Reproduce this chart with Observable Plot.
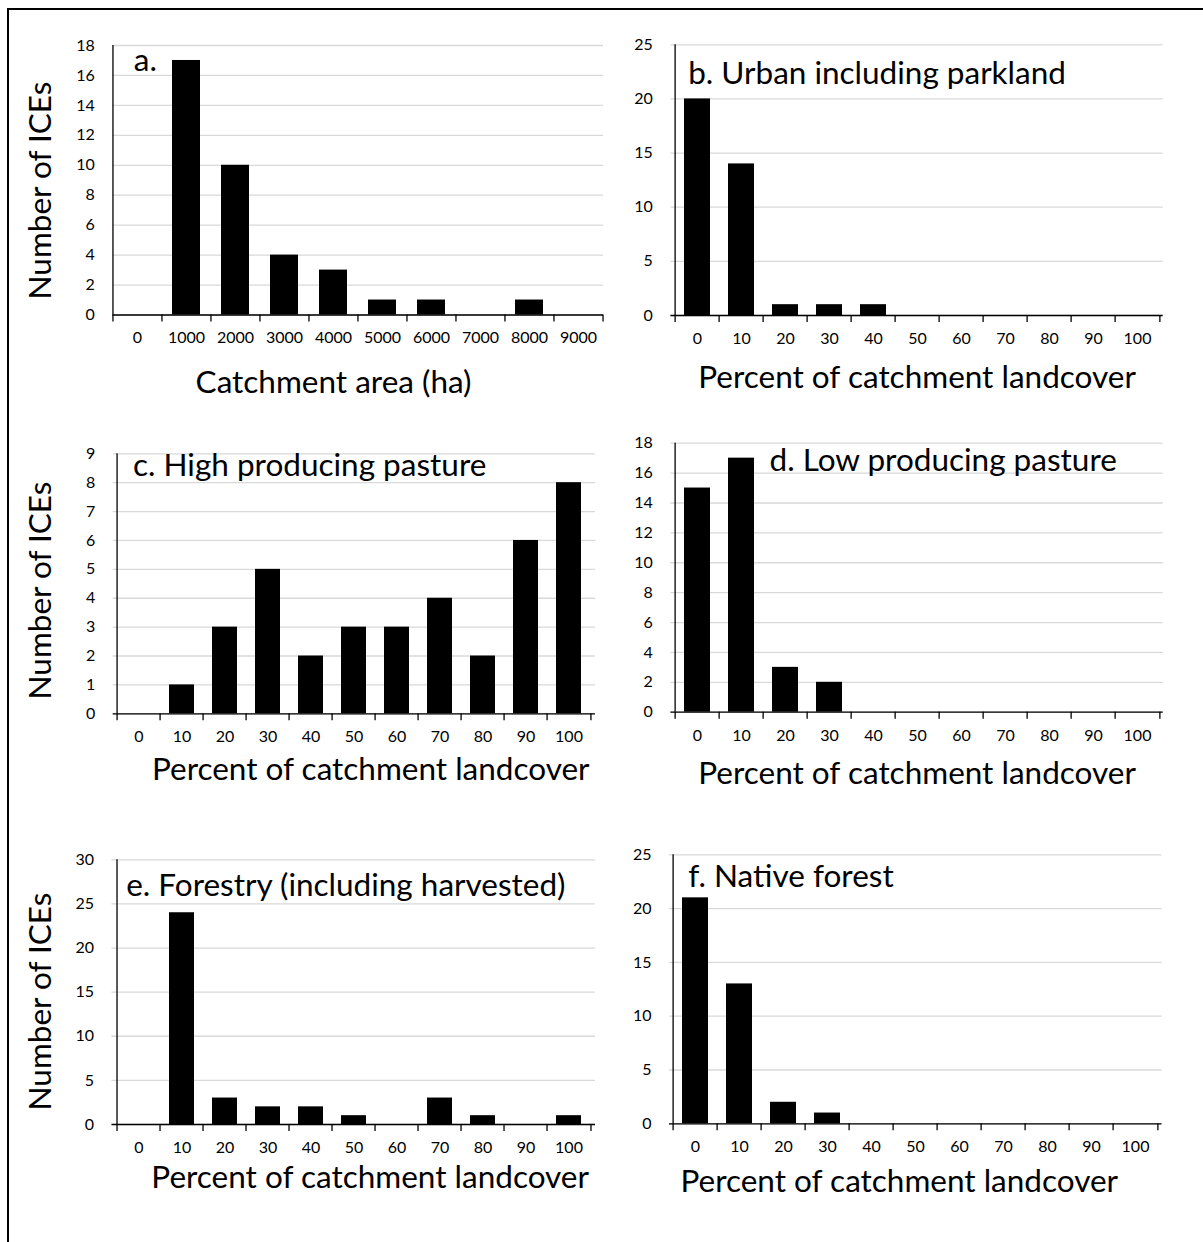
<!DOCTYPE html>
<html>
<head>
<meta charset="utf-8">
<script src="https://cdn.jsdelivr.net/npm/d3@7"></script>
<script src="https://cdn.jsdelivr.net/npm/@observablehq/plot@0.6"></script>
<style>
  body { margin: 0; background: #fff; }
  #fig { position: relative; width: 1203px; height: 1242px; overflow: hidden; background: #fff; font-family: Lato, sans-serif; color: #000; }
  #border { position: absolute; left: 7px; top: 8px; right: -4px; bottom: -4px; border-top: 2px solid #000; border-left: 2px solid #000; }
  .panel { position: absolute; }
</style>
</head>
<body>
<div id="fig"><div id="border"></div></div>
<script>
// ---- data ----
const areaCats = ["0", "1000", "2000", "3000", "4000", "5000", "6000", "7000", "8000", "9000"];
const pctCats = ["0", "10", "20", "30", "40", "50", "60", "70", "80", "90", "100"];

const areaCounts = [0, 17, 10, 4, 3, 1, 1, 0, 1, 0];
const urbanCounts = [20, 14, 1, 1, 1, 0, 0, 0, 0, 0, 0];
const highPastureCounts = [0, 1, 3, 5, 2, 3, 3, 4, 2, 6, 8];
const lowPastureCounts = [15, 17, 3, 2, 0, 0, 0, 0, 0, 0, 0];
const forestryCounts = [0, 24, 3, 2, 2, 1, 0, 3, 1, 0, 1];
const nativeForestCounts = [21, 13, 2, 1, 0, 0, 0, 0, 0, 0, 0];

const ticks18 = [0, 2, 4, 6, 8, 10, 12, 14, 16, 18];
const ticks25 = [0, 5, 10, 15, 20, 25];
const ticks9 = [0, 1, 2, 3, 4, 5, 6, 7, 8, 9];
const ticks30 = [0, 5, 10, 15, 20, 25, 30];

const panelTitles = ["a.", "b. Urban including parkland", "c. High producing pasture",
  "d. Low producing pasture", "e. Forestry (including harvested)", "f. Native forest"];
const xTitleArea = "Catchment area (ha)";
const xTitlePct = "Percent of catchment landcover";
const yTitle = "Number of ICEs";

// ---- layout (presentation only) ----
const TITLE_SIZE = 31.5;
const TICK_SIZE = 16;
const BASE_SHIFT = 0.32 * TITLE_SIZE; // baseline offset for middle-anchored text

const panels = [
  {cats: areaCats, values: areaCounts, yTicks: ticks18, title: panelTitles[0], xTitle: xTitleArea, yTitle,
   left: 0, top: 0, w: 605, h: 410, ml: 112.3, mr: 2, mt: 45, mb: 95.5,
   tdx: 21, tBase: 70, xdx: -24.6, xMid: 382, yMid: 190},
  {cats: pctCats, values: urbanCounts, yTicks: ticks25, title: panelTitles[1], xTitle: xTitlePct,
   left: 605, top: 0, w: 598, h: 410, ml: 65.4, mr: 40.3, mt: 44.3, mb: 95,
   tdx: 17.3, tBase: 83, xdx: 0, xMid: 377},
  {cats: pctCats, values: highPastureCounts, yTicks: ticks9, title: panelTitles[2], xTitle: xTitlePct, yTitle,
   left: 0, top: 410, w: 605, h: 410, ml: 112.7, mr: 10, mt: 43.3, mb: 106.7,
   tdx: 19.8, tBase: 475, xdx: 16.4, xMid: 769, yMid: 590},
  {cats: pctCats, values: lowPastureCounts, yTicks: ticks18, title: panelTitles[3], xTitle: xTitlePct,
   left: 605, top: 410, w: 598, h: 410, ml: 65.4, mr: 40.3, mt: 32.7, mb: 108.3,
   tdx: 98.6, tBase: 470, xdx: 0, xMid: 773},
  {cats: pctCats, values: forestryCounts, yTicks: ticks30, title: panelTitles[4], xTitle: xTitlePct, yTitle,
   left: 0, top: 820, w: 605, h: 422, ml: 111.5, mr: 10, mt: 39.3, mb: 118,
   tdx: 14.2, tBase: 895, xdx: 16.4, xMid: 1177, yMid: 1001},
  {cats: pctCats, values: nativeForestCounts, yTicks: ticks25, title: panelTitles[5], xTitle: xTitlePct,
   left: 605, top: 820, w: 598, h: 422, ml: 64, mr: 41.5, mt: 34.3, mb: 118.7,
   tdx: 18.7, tBase: 886.7, xdx: -16.5, xMid: 1181}
];

const fig = document.getElementById("fig");

for (const p of panels) {
  const n = p.cats.length;
  const step = (p.w - p.ml - p.mr) / n;
  const yMax = p.yTicks[p.yTicks.length - 1];
  const frameTop = p.top + p.mt;
  const frameBottom = p.top + p.h - p.mb;
  const frameMid = (frameTop + frameBottom) / 2;
  const data = p.cats.map((c, i) => ({cat: c, count: p.values[i]}));
  const marks = [
    Plot.gridY({ticks: p.yTicks, stroke: "#d9d9d9", strokeOpacity: 1, strokeWidth: 1.3}),
    Plot.barY(data, {x: "cat", y: "count", fill: "#000"}),
    Plot.ruleY([0], {stroke: "#000", strokeWidth: 1.3}),
    Plot.ruleX([p.cats[0]], {x: d => d, y1: 0, y2: yMax, dx: -step / 2, stroke: "#000", strokeWidth: 1.3}),
    Plot.axisX({tickSize: 7, tickFormat: () => "", dx: -step / 2, label: null, strokeWidth: 1.3}),
    Plot.axisX({ticks: [p.cats[n - 1]], tickSize: 7, tickFormat: () => "", dx: step / 2, label: null, strokeWidth: 1.3}),
    Plot.axisX({tickSize: 0, tickPadding: 17, fontSize: TICK_SIZE, label: null}),
    Plot.axisY({ticks: p.yTicks, tickSize: 0, tickPadding: 18, fontSize: TICK_SIZE, label: null}),
    Plot.text([p.title], {text: d => d, frameAnchor: "top-left", textAnchor: "start", lineAnchor: "middle",
      dx: p.tdx, dy: p.tBase - BASE_SHIFT - frameTop, fontSize: TITLE_SIZE, fill: "#000"}),
    Plot.text([p.xTitle], {text: d => d, frameAnchor: "bottom", textAnchor: "middle", lineAnchor: "middle",
      dx: p.xdx, dy: p.xMid - frameBottom, fontSize: TITLE_SIZE, fill: "#000"})
  ];
  if (p.yTitle) {
    marks.push(Plot.text([p.yTitle], {text: d => d, frameAnchor: "left", rotate: -90, textAnchor: "middle", lineAnchor: "middle",
      dx: 40 - p.ml, dy: p.yMid - frameMid, fontSize: TITLE_SIZE, fill: "#000"}));
  }
  const svg = Plot.plot({
    width: p.w,
    height: p.h,
    marginLeft: p.ml,
    marginRight: p.mr,
    marginTop: p.mt,
    marginBottom: p.mb,
    style: {fontFamily: "Lato, sans-serif", background: "transparent", color: "#000", overflow: "visible"},
    x: {type: "band", domain: p.cats, paddingInner: 0.42, paddingOuter: 0.21},
    y: {domain: [0, yMax]},
    marks
  });
  svg.classList.add("panel");
  svg.style.left = p.left + "px";
  svg.style.top = p.top + "px";
  fig.appendChild(svg);
}
</script>
</body>
</html>
